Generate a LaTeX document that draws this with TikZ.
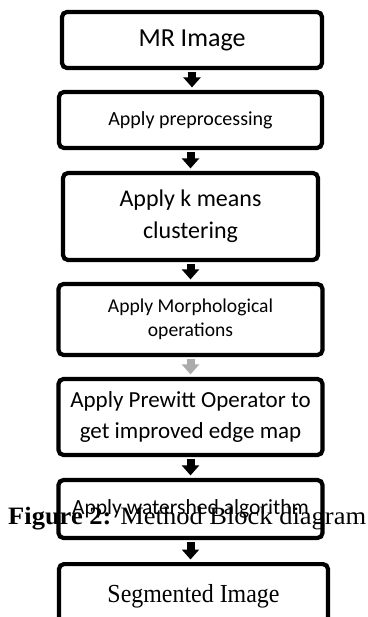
\documentclass[tikz,border=0pt]{standalone}
\usepackage{fontspec}
\setmainfont{Liberation Serif}
\newfontfamily\calib{Carlito}
\newfontfamily\segfont[FakeStretch=0.92]{Liberation Serif}
\newfontfamily\capfont[FakeStretch=1.06]{Liberation Serif}
\usepackage{tikz}
\usetikzlibrary{arrows.meta}

\begin{document}
\begin{tikzpicture}[x=1pt,y=-1pt,
    block/.style={draw,line width=4.2pt,rounded corners=5pt,fill=white,align=center,inner sep=0pt},
    flow/.style={line width=8pt,-{Triangle[width=17pt,length=10pt]},shorten <=2pt,shorten >=2.5pt}]
          \useasboundingbox (0,0) rectangle (367,617);
          \node[block,minimum width=260pt,minimum height=56pt,font=\calib\fontsize{26}{30}\selectfont]
            (B1) at (192,40) {MR Image};
          \node[block,minimum width=263pt,minimum height=56pt,font=\calib\fontsize{20}{24}\selectfont]
            (B2) at (190.5,120) {Apply preprocessing};
          \node[block,minimum width=255pt,minimum height=87pt,font=\calib\fontsize{24}{32}\selectfont]
            (B3) at (190.5,216.5) {Apply k means\\clustering};
          \node[block,minimum width=264pt,minimum height=71pt,font=\calib\fontsize{19.6}{24}\selectfont]
            (B4) at (190.5,319.5) {Apply Morphological\\operations};
          \node[block,minimum width=264pt,minimum height=76pt,font=\calib\fontsize{23}{31}\selectfont]
            (B5) at (190.5,417) {Apply Prewitt Operator to\\get improved edge map};
          \node[block,minimum width=264pt,minimum height=58pt,font=\calib\fontsize{21.6}{26}\selectfont]
            (B6) at (190.5,509) {Apply watershed algorithm};
          \node[block,anchor=north,minimum width=269pt,inner ysep=4pt,text height=34pt,text depth=40pt,
            font=\segfont\fontsize{26}{30}\selectfont] (B7) at (193.5,562) {Segmented Image};
          \draw[flow] (B1.south) -- (B1.south |- B2.north);
          \draw[flow] (B2.south) -- (B2.south |- B3.north);
          \draw[flow] (B3.south) -- (B3.south |- B4.north);
          \draw[flow,draw=black!33] (B4.south) -- (B4.south |- B5.north);
          \draw[flow] (B5.south) -- (B5.south |- B6.north);
          \draw[flow] (B6.south) -- (B6.south |- B7.north);
          \node[anchor=base west,inner sep=0pt,font=\capfont\fontsize{25}{30}\selectfont]
            (cap) at (8,524) {\textbf{Figure 2:} Method Block diagram};
        \end{tikzpicture}
\end{document}
